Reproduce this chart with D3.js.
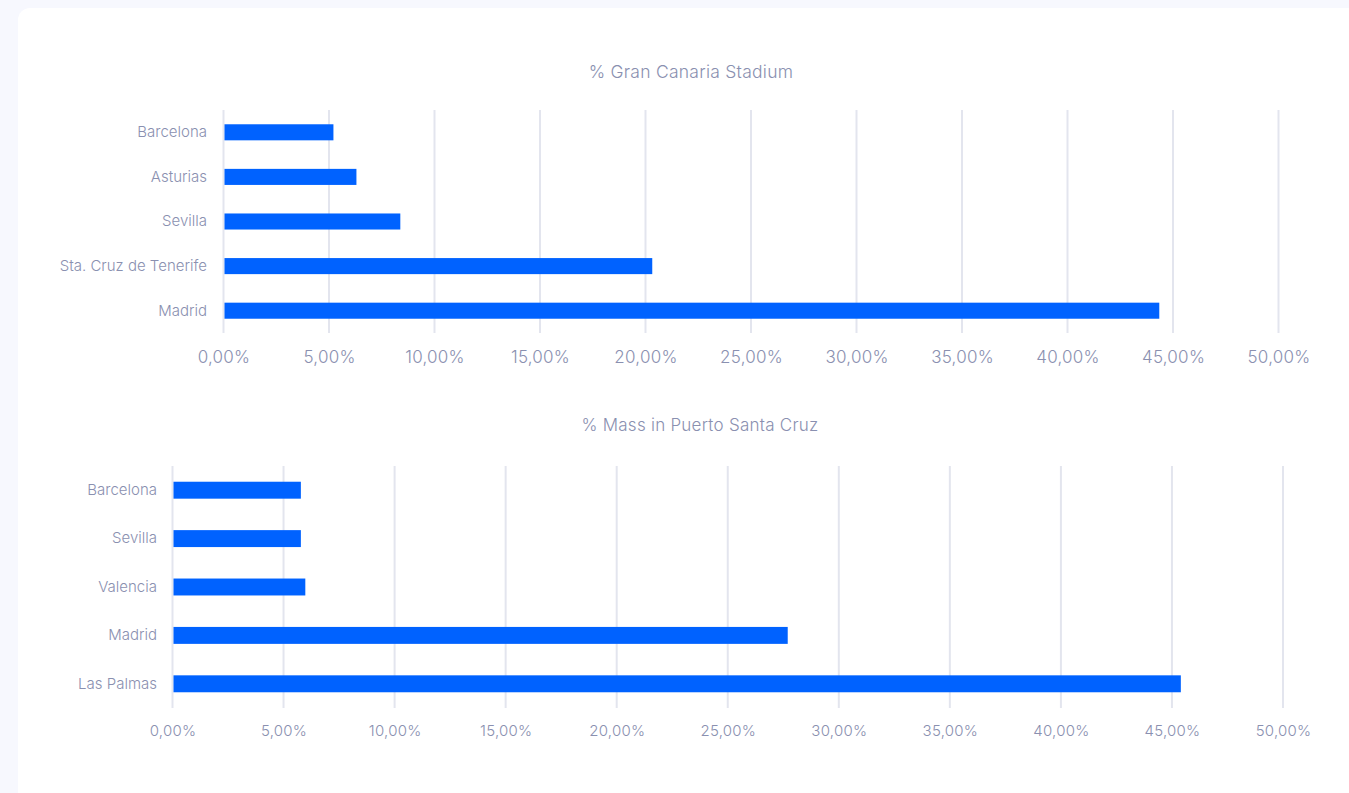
<!DOCTYPE html>
<html>
<head>
<meta charset="utf-8">
<script src="https://cdn.jsdelivr.net/npm/d3@7"></script>
<style>
  html, body { margin: 0; padding: 0; background: #f7f8fe; width: 1349px; height: 793px; overflow: hidden; }
  #card { position: absolute; left: 18px; top: 8px; width: 1360px; height: 820px; background: #ffffff; border-radius: 12px; }
  svg { position: absolute; left: 0; top: 0; }
  text { font-family: Inter, "Noto Sans", sans-serif; font-weight: 300; fill: #8a90b0; letter-spacing: 0.25px; }
  .cat text { letter-spacing: 0; }
</style>
</head>
<body>
<div id="card"></div>
<svg id="chart" width="1349" height="793"></svg>
<script>
// Top chart: share of attendance at Gran Canaria Stadium by origin
const stadiumCategories = ["Barcelona", "Asturias", "Sevilla", "Sta. Cruz de Tenerife", "Madrid"];
const stadiumValues = [5.21, 6.30, 8.38, 20.32, 44.35];

// Bottom chart: share of Mass attendance in Puerto Santa Cruz by origin
const massCategories = ["Barcelona", "Sevilla", "Valencia", "Madrid", "Las Palmas"];
const massValues = [5.78, 5.78, 5.98, 27.70, 45.40];

const xTicks = [0, 5, 10, 15, 20, 25, 30, 35, 40, 45, 50];
const titles = ["% Gran Canaria Stadium", "% Mass in Puerto Santa Cruz"];

const fmt = v => v.toFixed(2).replace(".", ",") + "%";
const svg = d3.select("#chart");

function drawPanel(cfg) {
  const g = svg.append("g");
  const x = d3.scaleLinear().domain([0, 50]).range([cfg.x0, cfg.x1]);
  const y = d3.scaleBand().domain(cfg.categories).range([cfg.y0, cfg.y1])
    .paddingInner(cfg.pad).paddingOuter(cfg.pad / 2);

  g.append("text")
    .attr("x", cfg.titleX).attr("y", cfg.titleY)
    .attr("text-anchor", "middle")
    .style("font-size", cfg.titleSize)
    .text(cfg.title);

  // vertical grid lines
  g.append("g").selectAll("line").data(xTicks).join("line")
    .attr("x1", d => x(d)).attr("x2", d => x(d))
    .attr("y1", cfg.y0).attr("y2", cfg.y1)
    .attr("stroke", "#e3e5ee").attr("stroke-width", 2);

  // x tick labels
  const xAxis = d3.axisBottom(x).tickValues(xTicks).tickFormat(fmt).tickSize(0).tickPadding(0);
  const ax = g.append("g").attr("transform", `translate(0,${cfg.tickY})`).call(xAxis);
  ax.select(".domain").remove();
  ax.selectAll("text").style("font-size", cfg.tickSize).attr("dy", "0.32em")
    .attr("fill", "#8a90b0");

  // category labels
  const yAxis = d3.axisLeft(y).tickSize(0).tickPadding(0);
  const ay = g.append("g").attr("class", "cat")
    .attr("transform", `translate(${cfg.labelX},0)`).call(yAxis);
  ay.select(".domain").remove();
  ay.selectAll("text").style("font-size", "15px").attr("fill", "#8a90b0");

  // bars
  g.append("g").selectAll("rect").data(cfg.values).join("rect")
    .attr("x", x(0) + 1)
    .attr("y", (d, i) => y(cfg.categories[i]))
    .attr("width", d => x(d) - x(0) - 1)
    .attr("height", y.bandwidth())
    .attr("fill", "#0062ff");
}

drawPanel({
  title: titles[0], titleX: 691, titleY: 78, titleSize: "17.5px",
  categories: stadiumCategories, values: stadiumValues,
  x0: 223.5, x1: 1278.5, y0: 110, y1: 333, pad: 0.64,
  tickY: 358, tickSize: "17px", labelX: 207
});

drawPanel({
  title: titles[1], titleX: 700, titleY: 431, titleSize: "17px",
  categories: massCategories, values: massValues,
  x0: 172.5, x1: 1283, y0: 466, y1: 708, pad: 0.65,
  tickY: 731, tickSize: "15px", labelX: 157
});
</script>
</body>
</html>
